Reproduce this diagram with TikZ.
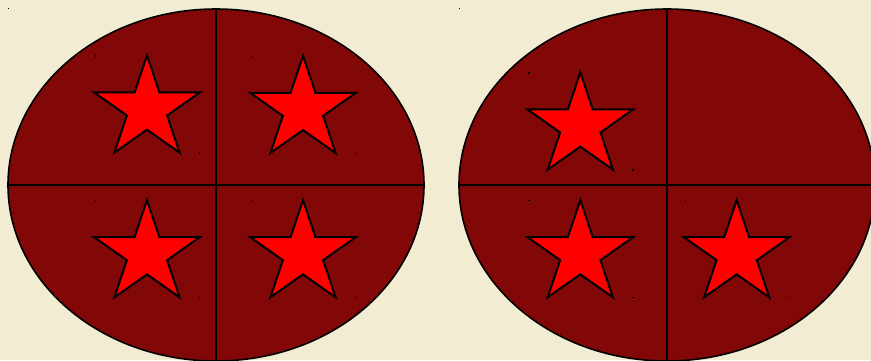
\documentclass[tikz,border=0pt]{standalone}
\definecolor{parch}{RGB}{242,236,211}
\definecolor{shield}{RGB}{130,8,8}
\tikzset{
  field/.style={fill=shield},
  rim/.style={draw=black, line width=1.6pt},
  divider/.style={draw=black, line width=1.6pt},
  starshape/.style={fill=red, draw=black, line width=2pt, line join=miter},
  speck/.style={fill=black}
}
\newcommand{\redstar}[2]{%
  \filldraw[starshape] plot[samples at={0,1,...,9}]
    ({#1 + (mod(\x,2)==0 ? 55.5 : 21.2)*cos(90+36*\x)},
     {#2 + 53.8 - (mod(\x,2)==0 ? 53.8 : 20.55)*sin(90+36*\x)}) -- cycle;
  \fill[speck] ({#1-52},{#2}) rectangle ++(1.3,1.3);
  \fill[speck] ({#1+52},{#2+97}) rectangle ++(1.3,1.3);
}
\newcommand{\quartered}[2]{%
  \fill[field] (#1,#2) ellipse [x radius=208, y radius=176];
  \begin{scope}
    \clip (#1,#2) ellipse [x radius=208, y radius=176];
    \draw[divider] (#1,{#2-180}) -- (#1,{#2+180});
    \draw[divider] ({#1-210},#2) -- ({#1+210},#2);
  \end{scope}
  \draw[rim] (#1,#2) ellipse [x radius=208, y radius=176];
  \fill[speck] ({#1-208},{#2-177}) rectangle ++(1.3,1.3);
}
\begin{document}
\begin{tikzpicture}[x=1pt, y=-1pt]
  \useasboundingbox (0,0) rectangle (871,360);
  \fill[parch] (0,0) rectangle (871,360);
  \begin{scope}
    \clip (0,0) rectangle (871,360);
    \quartered{216}{185}
    \quartered{667}{185}
    \redstar{147}{55.3}
    \redstar{303}{55.7}
    \redstar{147}{200}
    \redstar{303}{200}
    \redstar{580.3}{72.3}
    \redstar{580.3}{200}
    \redstar{736.7}{200}
  \end{scope}
\end{tikzpicture}
\end{document}
